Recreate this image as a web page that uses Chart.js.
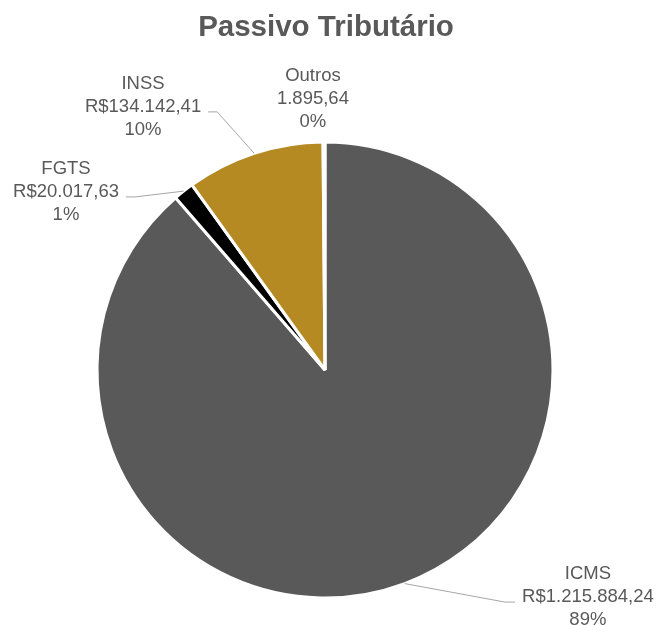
<!DOCTYPE html>
<html>
<head>
<meta charset="utf-8">
<script src="https://cdn.jsdelivr.net/npm/chart.js@4.4.1/dist/chart.umd.min.js"></script>
<style>
  html, body { margin: 0; padding: 0; background: #fff; }
  #wrap { width: 664px; height: 625px; }
</style>
</head>
<body>
<div id="wrap"><canvas id="passivoChart" width="664" height="625"></canvas></div>
<script>
'use strict';

// --- dados ---
const CATEGORIAS = ['ICMS', 'FGTS', 'INSS', 'Outros'];
const VALORES    = [1215884.24, 20017.63, 134142.41, 1895.64];
const PREFIXOS   = ['R$', 'R$', 'R$', ''];
const CORES      = ['#595959', '#000000', '#B58A22', '#A5A5A5'];
const TITULO     = 'Passivo Tributário';

// posição dos rótulos (relativa ao centro, em raios) - tipo "best fit" do Excel
const ROTULOS_POS = [
  { x: 1.153,  y: 0.996,  leader: true },
  { x: -1.136, y: -0.781, leader: true },
  { x: -0.798, y: -1.154, leader: true },
  { x: -0.053, y: -1.19,  leader: false },
];

const FONTE = '"Liberation Sans", Arial, sans-serif';
const COR_TEXTO = '#595959';

function fmtBR(v) {
  const [int, dec] = v.toFixed(2).split('.');
  return int.replace(/\B(?=(\d{3})+(?!\d))/g, '.') + ',' + dec;
}

const total = VALORES.reduce((a, b) => a + b, 0);

const rotulosPlugin = {
  id: 'rotulos',
  afterDraw(chart) {
    const ctx = chart.ctx;
    const arcs = chart.getDatasetMeta(0).data;

    ctx.save();
    // titulo
    ctx.fillStyle = COR_TEXTO;
    ctx.font = 'bold 29.5px ' + FONTE;
    ctx.textAlign = 'center';
    ctx.textBaseline = 'middle';
    ctx.fillText(TITULO, 326, 28);

    ctx.font = '18.5px ' + FONTE;
    arcs.forEach((arc, i) => {
      const p = arc.getProps(['x', 'y', 'startAngle', 'endAngle', 'outerRadius'], true);
      const R = p.outerRadius;
      const mid = (p.startAngle + p.endAngle) / 2;
      const pos = ROTULOS_POS[i];
      const cx = p.x + pos.x * R;
      const cy = p.y + pos.y * R;
      const linhas = [
        CATEGORIAS[i],
        PREFIXOS[i] + fmtBR(VALORES[i]),
        Math.round(VALORES[i] / total * 100) + '%',
      ];
      const w = Math.max(...linhas.map(t => ctx.measureText(t).width));

      if (pos.leader) {
        const ex = p.x + Math.cos(mid) * R;
        const ey = p.y + Math.sin(mid) * R;
        const ly = cy + 5;
        const fim = pos.x < 0 ? cx + w / 2 + 7 : cx - w / 2 - 7;
        const dobra = pos.x < 0 ? fim + 9 : fim - 10;
        ctx.strokeStyle = '#A6A6A6';
        ctx.lineWidth = 1;
        ctx.beginPath();
        ctx.moveTo(ex, ey);
        ctx.lineTo(dobra, ly);
        ctx.lineTo(fim, ly);
        ctx.stroke();
      }

      ctx.fillStyle = COR_TEXTO;
      linhas.forEach((t, k) => ctx.fillText(t, cx, cy + (k - 1) * 23));
    });
    ctx.restore();
  },
};

new Chart(document.getElementById('passivoChart').getContext('2d'), {
  type: 'pie',
  data: {
    labels: CATEGORIAS,
    datasets: [{
      data: VALORES,
      backgroundColor: CORES,
      borderColor: '#ffffff',
      borderWidth: 3,
    }],
  },
  options: {
    responsive: false,
    animation: false,
    layout: { padding: { left: 95.5, right: 109.5, top: 140.5, bottom: 25.5 } },
    plugins: {
      legend: { display: false },
      tooltip: { enabled: false },
      title: { display: false },
    },
  },
  plugins: [rotulosPlugin],
});
</script>
</body>
</html>
